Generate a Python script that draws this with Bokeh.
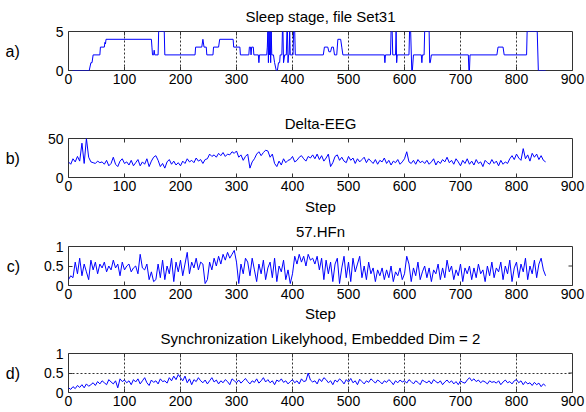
from bokeh.plotting import figure
from bokeh.layouts import column
from bokeh.models import FixedTicker, Range1d, LinearAxis, Grid, NumeralTickFormatter
from bokeh.embed import file_html
from bokeh.resources import INLINE

# ---------------- data ----------------
x_ticks = [0, 100, 200, 300, 400, 500, 600, 700, 800, 900]

# a) sleep stage (breakpoints: step, stage)
stage_step = [0, 37, 40, 42, 44, 56, 57, 64, 65, 66, 67, 148, 149, 150, 152, 153, 154, 160, 161, 171,
              172, 226, 227, 238, 240, 242, 246, 247, 258, 259, 268, 270, 294, 295, 306, 307, 322, 323, 325, 326,
              327, 330, 331, 339, 340, 341, 354, 355, 356, 357, 358, 359, 360, 361, 362, 363, 366, 368, 371, 373,
              375, 377, 378, 381, 382, 383, 384, 386, 389, 390, 391, 392, 393, 394, 395, 396, 401, 402, 404, 405,
              455, 457, 463, 465, 468, 470, 473, 475, 479, 481, 486, 488, 490, 564, 565, 566, 575, 576, 578, 579,
              584, 585, 586, 587, 608, 609, 611, 613, 614, 616, 630, 631, 632, 635, 636, 644, 645, 646, 648, 714,
              715, 716, 717, 765, 767, 776, 778, 818, 819, 837, 839, 852]
stage_value = [0, 0, 1, 1, 2, 2, 3, 3, 3.6, 3.4, 4, 4, 3, 2, 2, 2.6, 2, 2, 5, 5,
               2, 2, 3, 3, 4, 3, 3, 2, 2, 3, 3, 4, 4, 3, 3, 2, 2, 3, 3, 2,
               3, 3, 2, 2, 1, 2, 2, 3, 5, 1, 5, 2, 5, 1, 5, 2, 2, 1, 0, 0,
               1, 1, 2, 2, 5, 5, 1, 2, 2, 5, 5, 1, 2, 2, 5, 2, 2, 5, 5, 2,
               2, 3, 3, 2.4, 2.4, 3, 3, 2, 2, 4, 4, 3, 2, 2, 1, 2, 2, 5, 5, 2,
               2, 5, 1, 2, 2, 5, 5, 0, 0, 2, 2, 1, 2, 2, 5, 5, 1, 1, 2, 2,
               0, 0, 2, 2, 3, 3, 2, 2, 5, 5, 0, 0]

# b), c), d) sampled every 4 steps
step = list(range(0, 853, 4))

delta_eeg = [20, 17, 24, 20, 27, 21, 44, 18, 50, 26,
             20, 19, 18, 21, 19, 20, 17, 22, 15, 18,
             26, 17, 14, 21, 24, 18, 20, 16, 22, 15,
             19, 23, 15, 20, 17, 24, 14, 21, 26, 28,
             22, 14, 18, 12, 20, 23, 17, 21, 16, 19,
             15, 21, 18, 24, 20, 22, 19, 25, 21, 23,
             18, 23, 24, 30, 27, 29, 26, 31, 28, 32,
             27, 30, 29, 33, 31, 34, 26, 29, 22, 27,
             30, 12, 20, 24, 30, 33, 28, 32, 35, 34,
             26, 30, 18, 14, 21, 16, 24, 19, 22, 23,
             27, 20, 22, 26, 28, 24, 21, 27, 25, 29,
             24, 30, 23, 28, 21, 25, 30, 14, 19, 27,
             29, 22, 26, 21, 19, 27, 22, 25, 18, 24,
             20, 23, 26, 19, 24, 21, 18, 23, 17, 22,
             20, 25, 18, 22, 16, 21, 19, 23, 17, 20,
             24, 33, 20, 18, 22, 17, 23, 19, 21, 18,
             22, 17, 20, 24, 16, 21, 18, 23, 20, 26,
             19, 22, 17, 24, 20, 15, 22, 18, 24, 17,
             21, 16, 23, 18, 20, 14, 22, 19, 17, 23,
             18, 21, 15, 22, 17, 20, 18, 24, 28, 23,
             30, 25, 22, 37, 24, 29, 21, 31, 26, 30,
             23, 28, 22, 20]

hfn = [.15, .25, .2, .6, .3, .7, .25, .55, .35, .15,
       .65, .4, .6, .3, .55, .45, .6, .35, .5, .4,
       .65, .45, .55, .25, .6, .4, .5, .55, .35, .45,
       .5, .3, .8, .45, .4, .55, .15, .35, .1, .15,
       .55, .2, .65, .15, .5, .3, .7, .1, .6, .35,
       .65, .25, .55, .85, .3, .6, .45, .7, .4, .6,
       .55, .05, .15, .6, .4, .7, .5, .75, .55, .8,
       .65, .85, .7, .8, .9, .6, .05, .55, .3, .7,
       .6, .25, .7, .4, .1, .55, .3, .65, .15, .45,
       .6, .2, .7, .1, .5, .35, .65, .15, .4, .05,
       .3, .75, .55, .8, .6, .75, .5, .8, .65, .7,
       .55, .75, .4, .7, .15, .65, .3, .6, .1, .55,
       .7, .05, .45, .75, .2, .6, .1, .7, .35, .55,
       .75, .2, .5, .15, .6, .3, .45, .1, .4, .25,
       .45, .15, .4, .2, .5, .1, .35, .25, .45, .15,
       .3, .75, .55, .1, .45, .25, .6, .15, .35, .5,
       .2, .45, .1, .4, .3, .55, .15, .45, .2, .65,
       .35, .5, .15, .4, .25, .55, .1, .45, .3, .5,
       .15, .45, .2, .55, .3, .4, .1, .5, .25, .6,
       .2, .45, .35, .6, .15, .5, .3, .65, .1, .45,
       .6, .2, .55, .35, .7, .15, .5, .3, .65, .2,
       .55, .7, .4, .25]

sync_lh = [.12, .08, .15, .1, .18, .13, .2, .12, .22, .16,
           .2, .25, .18, .28, .22, .3, .25, .2, .33, .27,
           .22, .3, .12, .35, .28, .32, .25, .3, .2, .33,
           .27, .35, .22, .3, .38, .25, .18, .32, .26, .3,
           .22, .35, .28, .3, .24, .38, .3, .42, .33, .46,
           .38, .3, .42, .25, .35, .2, .33, .28, .38, .3,
           .25, .32, .22, .3, .38, .27, .32, .22, .3, .25,
           .33, .28, .2, .35, .3, .25, .32, .24, .3, .36,
           .28, .22, .3, .26, .35, .24, .3, .38, .27, .33,
           .25, .3, .2, .32, .28, .35, .26, .3, .22, .28,
           .33, .25, .3, .22, .35, .28, .3, .5, .32, .27,
           .3, .22, .35, .28, .38, .33, .25, .3, .2, .32,
           .27, .35, .3, .22, .33, .27, .36, .25, .3, .2,
           .34, .28, .22, .3, .26, .35, .3, .24, .32, .28,
           .22, .3, .26, .33, .28, .2, .3, .25, .32, .27,
           .3, .24, .33, .28, .22, .3, .26, .2, .32, .28,
           .25, .3, .22, .33, .28, .24, .3, .2, .27, .32,
           .25, .3, .22, .28, .2, .3, .26, .24, .32, .38,
           .3, .35, .28, .32, .25, .3, .27, .22, .3, .26,
           .28, .24, .3, .2, .27, .32, .25, .28, .22, .3,
           .33, .25, .3, .2, .28, .22, .25, .18, .26, .2,
           .24, .15, .22, .17]

# ---------------- styling ----------------
FONT = "Liberation Sans"
FRAME = "#333333"
LINE = "#0000ff"


def style_axis(ax, ticks):
    ax.ticker = FixedTicker(ticks=ticks)
    ax.major_tick_in = 4
    ax.major_tick_out = 0
    ax.minor_tick_line_color = None
    ax.axis_line_color = None
    ax.major_tick_line_color = FRAME
    ax.major_label_text_font = FONT
    ax.major_label_text_color = "black"
    ax.major_label_text_font_size = "14px"
    ax.formatter = NumeralTickFormatter(format="0.[0]")


def panel(title, h, top, bottom, y_max, y_ticks, letter, letter_standoff,
          x_grid, y_grid, step_label, step_standoff):
    p = figure(width=586, height=h, x_range=Range1d(0, 900), y_range=Range1d(0, y_max),
               output_backend="svg", toolbar_location=None,
               x_axis_type=None, y_axis_type=None,
               min_border_left=68, min_border_right=14,
               min_border_top=top, min_border_bottom=bottom)
    p.title.text = title
    p.title.align = "center"
    p.title.vertical_align = "top"
    p.title.text_font = FONT
    p.title.text_font_size = "15px"
    p.title.text_font_style = "normal"
    p.title.text_color = "black"
    p.title.standoff = 10
    p.outline_line_color = FRAME
    p.outline_line_width = 1
    p.background_fill_color = "white"
    p.border_fill_color = "white"

    xb = LinearAxis()
    style_axis(xb, x_ticks)
    xb.major_label_standoff = 3
    if step_label:
        xb.axis_label = "Step"
        xb.axis_label_text_font = FONT
        xb.axis_label_text_font_size = "15px"
        xb.axis_label_text_font_style = "normal"
        xb.axis_label_text_color = "black"
        xb.axis_label_standoff = step_standoff
    p.add_layout(xb, "below")

    yl = LinearAxis()
    style_axis(yl, y_ticks)
    yl.major_label_standoff = 5
    yl.axis_label = letter
    yl.axis_label_orientation = "horizontal"
    yl.axis_label_text_font = FONT
    yl.axis_label_text_font_size = "16px"
    yl.axis_label_text_font_style = "normal"
    yl.axis_label_text_color = "black"
    yl.axis_label_standoff = letter_standoff
    p.add_layout(yl, "left")

    # inner tick marks on the top and right edges of the box
    inner_x = x_ticks[1:-1]
    p.scatter(inner_x, [y_max] * len(inner_x), marker="dash", size=8, angle=1.5708,
              line_color=FRAME, line_width=1)
    inner_y = y_ticks[1:-1]
    if inner_y:
        p.scatter([900] * len(inner_y), inner_y, marker="dash", size=8,
                  line_color=FRAME, line_width=1)

    if x_grid:
        p.add_layout(Grid(dimension=0, ticker=FixedTicker(ticks=inner_x),
                          grid_line_color=FRAME, grid_line_dash="2 2", grid_line_width=1))
    if y_grid:
        p.add_layout(Grid(dimension=1, ticker=FixedTicker(ticks=inner_y),
                          grid_line_color=FRAME, grid_line_dash="2 2", grid_line_width=1))
    return p


pa = panel("Sleep stage, file Set31", 109, 31, 39, 5, [0, 5], "a)", 33, True, False, False, 0)
pa.line(stage_step, stage_value, line_color=LINE, line_width=1)

pb = panel("Delta-EEG", 108, 29, 40, 50, [0, 50], "b)", 25, False, False, True, 4)
pb.line(step, delta_eeg, line_color=LINE, line_width=1)

pc = panel("57.HFn", 107, 29, 39, 1, [0, 0.5, 1], "c)", 21, False, False, True, 3)
pc.line(step, hfn, line_color=LINE, line_width=1)

pd = panel("Synchronization Likelyhood, Embedded Dim = 2", 88, 29, 20, 1, [0, 0.5, 1], "d)", 21,
           True, True, False, 0)
pd.line(step, sync_lh, line_color=LINE, line_width=1)

layout = column(pa, pb, pc, pd, spacing=0)
open("out.html", "w").write(file_html(layout, INLINE))
